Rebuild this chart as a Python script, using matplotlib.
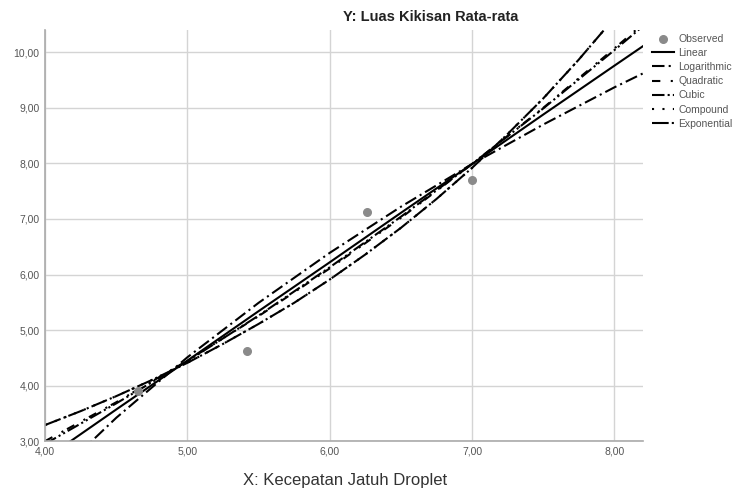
import numpy as np
import matplotlib
matplotlib.use('Agg')
import matplotlib.pyplot as plt
from matplotlib.ticker import FuncFormatter

plt.rcParams['font.family'] = ['Liberation Sans', 'DejaVu Sans']

# observed points
obs_x = [4.65, 5.42, 6.26, 7.00]
obs_y = [3.90, 4.63, 7.12, 7.70]

# fitted curves at these x positions
fit_x = [4.0, 4.5, 5.0, 5.5, 6.0, 6.5, 7.0, 7.5, 8.0, 8.2]
linear = [2.68, 3.57, 4.45, 5.34, 6.22, 7.11, 7.99, 8.88, 9.76, 10.11]
logarithmic = [2.20, 3.42, 4.51, 5.49, 6.39, 7.22, 7.99, 8.70, 9.37, 9.62]
quadratic = [3.00, 3.70, 4.45, 5.25, 6.11, 7.02, 7.99, 9.00, 10.07, 10.51]
cubic = [2.95, 3.68, 4.44, 5.26, 6.13, 7.04, 7.99, 8.99, 10.04, 10.47]

# compound and exponential (same curve), read at a finer step
growth_x = [4.0, 4.25, 4.5, 4.75, 5.0, 5.25, 5.5, 5.75, 6.0, 6.25, 6.5,
            6.75, 7.0, 7.25, 7.5, 7.75, 8.0, 8.2]
compound = [3.29, 3.54, 3.81, 4.10, 4.41, 4.75, 5.11, 5.49, 5.91, 6.36, 6.84,
            7.36, 7.92, 8.53, 9.17, 9.87, 10.62, 11.26]
exponential = [3.29, 3.54, 3.81, 4.10, 4.41, 4.75, 5.11, 5.49, 5.91, 6.36, 6.84,
               7.36, 7.92, 8.53, 9.17, 9.87, 10.62, 11.26]

x_ticks = [4, 5, 6, 7, 8]
y_ticks = [3, 4, 5, 6, 7, 8, 9, 10]

fig = plt.figure(figsize=(7.51, 4.94), dpi=100)
ax = fig.add_axes([0.06, 0.107, 0.796, 0.832])

lw = 1.5
ax.plot(fit_x, linear, color='black', lw=lw, ls='-', label='Linear')
ax.plot(fit_x, logarithmic, color='black', lw=lw, ls=(0, (6, 2, 1, 2)), label='Logarithmic')
ax.plot(fit_x, quadratic, color='black', lw=lw, ls=(0, (4, 5, 1, 2)), label='Quadratic')
ax.plot(fit_x, cubic, color='black', lw=lw, ls=(0, (6, 1.5, 1, 1.5, 1, 1.5)), label='Cubic')
ax.plot(growth_x, compound, color='black', lw=lw, ls=(0, (1, 4)), label='Compound')
ax.plot(growth_x, exponential, color='black', lw=lw, ls=(0, (8, 1.5, 1, 1.5)), label='Exponential')
obs = ax.scatter(obs_x, obs_y, s=30, color='#8a8a8a', zorder=5, label='Observed')

ax.set_xlim(4.0, 8.2)
ax.set_ylim(3.0, 10.4)
ax.set_xticks(x_ticks)
ax.set_yticks(y_ticks)
fmt = FuncFormatter(lambda v, p: ('%.2f' % v).replace('.', ','))
ax.xaxis.set_major_formatter(fmt)
ax.yaxis.set_major_formatter(fmt)
ax.tick_params(length=0, labelsize=7.5, labelcolor='#555555', pad=4)
ax.grid(True, color='#d4d4d4', lw=1.0)
ax.set_axisbelow(True)
for s in ['top', 'right']:
    ax.spines[s].set_visible(False)
for s in ['left', 'bottom']:
    ax.spines[s].set_color('#aaaaaa')
    ax.spines[s].set_linewidth(1.2)

fig.text(0.573, 0.965, 'Y: Luas Kikisan Rata-rata', ha='center', va='center',
         fontsize=10.5, fontweight='bold', color='#222222')
fig.text(0.46, 0.027, 'X: Kecepatan Jatuh Droplet', ha='center', va='center',
         fontsize=12, color='#333333')

handles, labels = ax.get_legend_handles_labels()
order = [6, 0, 1, 2, 3, 4, 5]
leg = fig.legend([handles[i] for i in order], [labels[i] for i in order],
                 loc='upper left', bbox_to_anchor=(0.862, 0.94), frameon=False,
                 fontsize=7.5, handlelength=2.2, handletextpad=0.4,
                 labelspacing=0.4, borderaxespad=0)
for t in leg.get_texts():
    t.set_color('#555555')

fig.savefig('out.png', dpi=100)
